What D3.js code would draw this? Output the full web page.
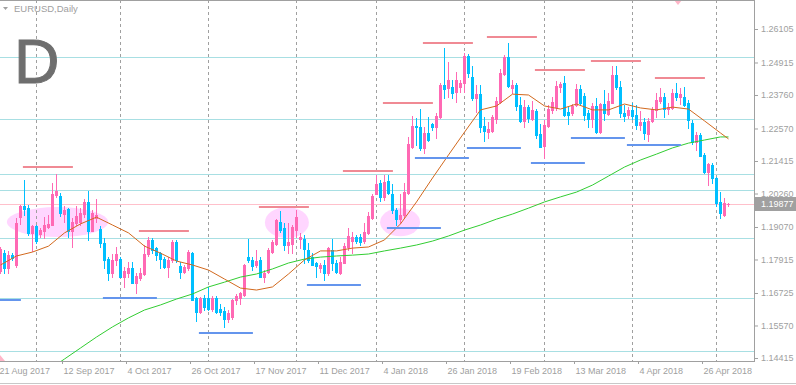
<!DOCTYPE html>
<html>
<head>
<meta charset="utf-8">
<script src="https://cdn.jsdelivr.net/npm/d3@7"></script>
<style>
    body { margin: 0; background: #fff; }
    svg { display: block; font-family: "Liberation Sans", Arial, sans-serif; }
    .axis text { fill: #a0a0a0; font-size: 9px; }
    .axis line { stroke: #a0a0a0; }
</style>
</head>
<body>
<svg id="chart" width="796" height="385"></svg>
<script>
// EURUSD daily bars, 21 Aug 2017 .. 4 May 2018 (index 0 = 21 Aug)
const barOpen = [
    1.1749, 1.1816, 1.1763, 1.1808, 1.1772, 1.1944, 1.1982, 1.1974, 1.1885, 1.1911,
    1.1882, 1.1891, 1.1908, 1.1914, 1.2021, 1.2017, 1.1953, 1.1970, 1.1891, 1.1920,
    1.1926, 1.1953, 1.1997, 1.1893, 1.1938, 1.1899, 1.1849, 1.1792, 1.1745, 1.1788,
    1.1792, 1.1731, 1.1745, 1.1760, 1.1709, 1.1725, 1.1740, 1.1811, 1.1860, 1.1831,
    1.1813, 1.1795, 1.1766, 1.1789, 1.1854, 1.1768, 1.1748, 1.1760, 1.1813, 1.1653,
    1.1606, 1.1653, 1.1656, 1.1617, 1.1656, 1.1617, 1.1609, 1.1581, 1.1588, 1.1647,
    1.1653, 1.1665, 1.1801, 1.1789, 1.1771, 1.1789, 1.1730, 1.1748, 1.1819, 1.1848,
    1.1925, 1.1902, 1.1842, 1.1848, 1.1896, 1.1863, 1.1866, 1.1825, 1.1801, 1.1778,
    1.1763, 1.1772, 1.1742, 1.1825, 1.1778, 1.1744, 1.1780, 1.1837, 1.1858, 1.1872,
    1.1872, 1.1858, 1.1884, 1.1938, 1.2026, 1.2062, 1.2015, 1.2071, 1.2026, 1.1967,
    1.1934, 1.1949, 1.2029, 1.2192, 1.2266, 1.2261, 1.2186, 1.2240, 1.2273, 1.2261,
    1.2297, 1.2411, 1.2400, 1.2406, 1.2388, 1.2403, 1.2417, 1.2515, 1.2441, 1.2364,
    1.2380, 1.2266, 1.2246, 1.2249, 1.2289, 1.2352, 1.2451, 1.2510, 1.2400, 1.2411,
    1.2340, 1.2285, 1.2334, 1.2289, 1.2320, 1.2237, 1.2195, 1.2266, 1.2323, 1.2332,
    1.2406, 1.2417, 1.2317, 1.2313, 1.2340, 1.2396, 1.2372, 1.2311, 1.2289, 1.2337,
    1.2246, 1.2344, 1.2309, 1.2349, 1.2447, 1.2406, 1.2311, 1.2305, 1.2323, 1.2305,
    1.2269, 1.2281, 1.2237, 1.2285, 1.2323, 1.2356, 1.2370, 1.2325, 1.2329, 1.2384,
    1.2370, 1.2370, 1.2346, 1.2278, 1.2210, 1.2234, 1.2163, 1.2103, 1.2127, 1.2080,
    1.1997, 1.1949, 1.1988
];
const barHigh = [
    1.1837, 1.1826, 1.1820, 1.1814, 1.1938, 1.1985, 1.2074, 1.1985, 1.1914, 1.1914,
    1.1903, 1.1944, 1.1950, 1.2062, 1.2096, 1.2027, 1.1980, 1.1974, 1.1938, 1.1980,
    1.1974, 1.2006, 1.2036, 1.1968, 1.2006, 1.1911, 1.1867, 1.1799, 1.1811, 1.1835,
    1.1799, 1.1766, 1.1784, 1.1784, 1.1743, 1.1760, 1.1843, 1.1871, 1.1869, 1.1837,
    1.1819, 1.1801, 1.1801, 1.1860, 1.1862, 1.1783, 1.1772, 1.1825, 1.1819, 1.1659,
    1.1659, 1.1665, 1.1694, 1.1661, 1.1661, 1.1635, 1.1623, 1.1611, 1.1650, 1.1668,
    1.1677, 1.1775, 1.1866, 1.1801, 1.1825, 1.1801, 1.1754, 1.1831, 1.1860, 1.1937,
    1.1965, 1.1920, 1.1920, 1.1914, 1.1967, 1.1884, 1.1878, 1.1849, 1.1813, 1.1783,
    1.1778, 1.1789, 1.1837, 1.1866, 1.1789, 1.1801, 1.1849, 1.1905, 1.1890, 1.1878,
    1.1882, 1.1922, 1.1961, 1.2024, 1.2092, 1.2074, 1.2092, 1.2092, 1.2060, 1.1973,
    1.2026, 1.2062, 1.2228, 1.2301, 1.2293, 1.2325, 1.2263, 1.2297, 1.2278, 1.2311,
    1.2420, 1.2542, 1.2494, 1.2429, 1.2459, 1.2429, 1.2526, 1.2522, 1.2479, 1.2411,
    1.2411, 1.2297, 1.2281, 1.2305, 1.2370, 1.2467, 1.2518, 1.2560, 1.2429, 1.2417,
    1.2370, 1.2358, 1.2340, 1.2356, 1.2325, 1.2273, 1.2287, 1.2340, 1.2370, 1.2427,
    1.2423, 1.2443, 1.2332, 1.2344, 1.2415, 1.2411, 1.2382, 1.2323, 1.2346, 1.2364,
    1.2349, 1.2394, 1.2382, 1.2479, 1.2479, 1.2427, 1.2340, 1.2335, 1.2349, 1.2340,
    1.2320, 1.2293, 1.2293, 1.2332, 1.2384, 1.2400, 1.2384, 1.2346, 1.2396, 1.2420,
    1.2400, 1.2403, 1.2358, 1.2287, 1.2246, 1.2240, 1.2169, 1.2135, 1.2133, 1.2086,
    1.2032, 1.2009, 1.1993
];
const barLow = [
    1.1743, 1.1745, 1.1743, 1.1790, 1.1764, 1.1918, 1.1950, 1.1879, 1.1823, 1.1849,
    1.1871, 1.1867, 1.1902, 1.1914, 1.2015, 1.1946, 1.1926, 1.1873, 1.1837, 1.1914,
    1.1914, 1.1944, 1.1861, 1.1891, 1.1926, 1.1835, 1.1760, 1.1717, 1.1728, 1.1772,
    1.1728, 1.1695, 1.1731, 1.1707, 1.1672, 1.1719, 1.1737, 1.1804, 1.1815, 1.1789,
    1.1760, 1.1760, 1.1728, 1.1783, 1.1783, 1.1724, 1.1742, 1.1754, 1.1647, 1.1574,
    1.1600, 1.1611, 1.1611, 1.1609, 1.1600, 1.1594, 1.1552, 1.1570, 1.1581, 1.1635,
    1.1635, 1.1661, 1.1783, 1.1754, 1.1766, 1.1728, 1.1712, 1.1742, 1.1813, 1.1842,
    1.1890, 1.1825, 1.1813, 1.1813, 1.1872, 1.1831, 1.1778, 1.1783, 1.1772, 1.1730,
    1.1748, 1.1718, 1.1736, 1.1754, 1.1742, 1.1740, 1.1778, 1.1825, 1.1816, 1.1849,
    1.1843, 1.1849, 1.1882, 1.1934, 1.2024, 1.2000, 1.2003, 1.2024, 1.1958, 1.1914,
    1.1920, 1.1938, 1.2024, 1.2186, 1.2198, 1.2180, 1.2171, 1.2214, 1.2251, 1.2222,
    1.2293, 1.2364, 1.2370, 1.2364, 1.2352, 1.2388, 1.2388, 1.2441, 1.2358, 1.2317,
    1.2246, 1.2214, 1.2222, 1.2246, 1.2278, 1.2346, 1.2447, 1.2403, 1.2382, 1.2323,
    1.2281, 1.2261, 1.2281, 1.2287, 1.2222, 1.2190, 1.2151, 1.2263, 1.2311, 1.2323,
    1.2388, 1.2301, 1.2273, 1.2305, 1.2337, 1.2344, 1.2287, 1.2261, 1.2261, 1.2240,
    1.2242, 1.2287, 1.2305, 1.2346, 1.2396, 1.2299, 1.2285, 1.2293, 1.2290, 1.2254,
    1.2252, 1.2218, 1.2214, 1.2281, 1.2299, 1.2349, 1.2299, 1.2309, 1.2325, 1.2358,
    1.2344, 1.2337, 1.2258, 1.2202, 1.2181, 1.2159, 1.2100, 1.2056, 1.2064, 1.1981,
    1.1938, 1.1946, 1.1982
];
const barClose = [
    1.1828, 1.1760, 1.1808, 1.1796, 1.1920, 1.1982, 1.1970, 1.1885, 1.1911, 1.1859,
    1.1897, 1.1914, 1.1918, 1.2025, 1.2035, 1.1956, 1.1968, 1.1891, 1.1923, 1.1946,
    1.1958, 1.1997, 1.1893, 1.1956, 1.1950, 1.1849, 1.1790, 1.1745, 1.1790, 1.1811,
    1.1731, 1.1749, 1.1760, 1.1709, 1.1733, 1.1743, 1.1811, 1.1861, 1.1827, 1.1807,
    1.1795, 1.1766, 1.1789, 1.1854, 1.1789, 1.1748, 1.1766, 1.1819, 1.1647, 1.1606,
    1.1653, 1.1623, 1.1617, 1.1656, 1.1606, 1.1606, 1.1581, 1.1600, 1.1647, 1.1661,
    1.1671, 1.1771, 1.1789, 1.1768, 1.1787, 1.1730, 1.1742, 1.1825, 1.1854, 1.1931,
    1.1896, 1.1842, 1.1854, 1.1908, 1.1943, 1.1870, 1.1828, 1.1789, 1.1772, 1.1768,
    1.1772, 1.1742, 1.1831, 1.1778, 1.1748, 1.1783, 1.1839, 1.1875, 1.1872, 1.1858,
    1.1855, 1.1890, 1.1946, 1.2017, 1.2060, 1.2015, 1.2068, 1.2029, 1.1967, 1.1934,
    1.1949, 1.2032, 1.2202, 1.2266, 1.2261, 1.2186, 1.2240, 1.2216, 1.2263, 1.2301,
    1.2411, 1.2396, 1.2429, 1.2382, 1.2429, 1.2420, 1.2515, 1.2453, 1.2364, 1.2380,
    1.2263, 1.2249, 1.2254, 1.2297, 1.2356, 1.2455, 1.2512, 1.2408, 1.2411, 1.2337,
    1.2285, 1.2334, 1.2293, 1.2323, 1.2234, 1.2192, 1.2269, 1.2325, 1.2352, 1.2408,
    1.2415, 1.2305, 1.2305, 1.2337, 1.2396, 1.2349, 1.2305, 1.2289, 1.2337, 1.2246,
    1.2344, 1.2311, 1.2356, 1.2447, 1.2403, 1.2311, 1.2301, 1.2323, 1.2301, 1.2269,
    1.2281, 1.2242, 1.2285, 1.2325, 1.2358, 1.2370, 1.2325, 1.2335, 1.2384, 1.2370,
    1.2380, 1.2340, 1.2287, 1.2210, 1.2234, 1.2159, 1.2103, 1.2131, 1.2080, 1.1993,
    1.1955, 1.1991, 1.1988
];

// moving averages, read every 4th bar
const maIdx = [0, 4, 8, 12, 16, 20, 24, 28, 32, 36, 40, 44, 48, 52, 56, 60, 64, 68, 72, 76,
    80, 84, 88, 92, 96, 100, 104, 108, 112, 116, 120, 124, 128, 132, 136, 140, 144, 148,
    152, 156, 160, 164, 168, 172, 176, 180, 182];
const maFast = [1.1772, 1.1804, 1.1818, 1.1839, 1.1886, 1.1918, 1.1942, 1.1914, 1.1886, 1.1839,
    1.1814, 1.1786, 1.1772, 1.1754, 1.1722, 1.1690, 1.1683, 1.1694, 1.1740, 1.1790,
    1.1822, 1.1822, 1.1832, 1.1836, 1.1861, 1.1918, 1.1996, 1.2081, 1.2163, 1.2244,
    1.2323, 1.2337, 1.2379, 1.2376, 1.2337, 1.2326, 1.2344, 1.2323, 1.2323, 1.2344,
    1.2330, 1.2323, 1.2333, 1.2326, 1.2284, 1.2241, 1.2220];
const maSlow = [null, null, null, 1.1399, 1.1438, 1.1477, 1.1516, 1.1552, 1.1584, 1.1612,
    1.1630, 1.1651, 1.1669, 1.1694, 1.1711, 1.1729, 1.1740, 1.1758, 1.1779, 1.1793,
    1.1800, 1.1804, 1.1807, 1.1811, 1.1822, 1.1832, 1.1843, 1.1857, 1.1875, 1.1896,
    1.1914, 1.1935, 1.1953, 1.1974, 1.1996, 1.2014, 1.2031, 1.2056, 1.2088, 1.2120,
    1.2145, 1.2166, 1.2188, 1.2205, 1.2216, 1.2227, 1.2227];

const priceTicks = [1.26105, 1.24915, 1.23760, 1.22570, 1.21415, 1.20260,
    1.19070, 1.17915, 1.16725, 1.15570, 1.14415];
const lastPrice = 1.19877;
const monthStarts = [9, 30, 52, 74, 94, 116, 136, 158, 179];
const dateTickIdx = [0, 16, 32, 48, 64, 80, 96, 112, 128, 144, 160, 176];
const dateTickLabels = ["21 Aug 2017", "12 Sep 2017", "4 Oct 2017", "26 Oct 2017",
    "17 Nov 2017", "11 Dec 2017", "4 Jan 2018", "26 Jan 2018", "19 Feb 2018",
    "13 Mar 2018", "4 Apr 2018", "26 Apr 2018"];

// horizontal levels across the whole chart
const levelLines = [1.2510, 1.2291, 1.2095, 1.2038, 1.1868, 1.1655, 1.1465];

// short resistance / support segments (bar index from..to, price)
const resFrom = [5.6, 34.6, 64.6, 85.6, 95.6, 105.6, 121.6, 133.6, 147.6, 163.6];
const resTo = [18.1, 47.1, 77.1, 98.1, 108.1, 118.1, 134.1, 146.1, 160.1, 176.1];
const resPrice = [1.2119, 1.1893, 1.1979, 1.2107, 1.2349, 1.2562, 1.2581, 1.2466, 1.2498, 1.2437];
const supFrom = [-8.4, 25.6, 49.6, 76.6, 96.6, 103.6, 116.6, 132.6, 142.6, 156.6];
const supTo = [5.1, 39.1, 63.1, 90.1, 110.1, 117.1, 130.1, 146.1, 156.1, 170.1];
const supPrice = [1.1649, 1.1656, 1.1531, 1.1701, 1.1904, 1.2153, 1.2189, 1.2135, 1.2224, 1.2199];

// highlighted zones (ellipses): bar index from..to, price top..bottom
const zoneFrom = [1.6, 66.1, 94.9];
const zoneTo = [26.9, 77.1, 104.9];
const zoneTop = [1.1978, 1.1978, 1.1974];
const zoneBottom = [1.1871, 1.1868, 1.1874];

/** MT4 style candle chart */
class CandleChart {

    constructor(svg) {
        this.svg = svg;
        this.plotW = 754;
        this.plotH = 361;
        // one bar = 4px
        this.x = d3.scaleLinear().domain([0, 1]).range([0.5, 4.5]);
        this.y = d3.scaleLinear().domain([1.14415, 1.26105]).range([358, 29]);

        this.bars = barOpen.map(function (o, i) {
            return {i: i, o: o, h: barHigh[i], l: barLow[i], c: barClose[i]};
        });
    }

    draw() {
        let svg = this.svg;
        svg.append("defs").append("clipPath").attr("id", "plotClip")
            .append("rect").attr("width", this.plotW).attr("height", this.plotH);

        this.plot = svg.append("g").attr("clip-path", "url(#plotClip)");

        this.drawBackground();
        this.drawCandles();
        this.drawAverages();
        this.drawSegments();
        this.drawAxes();
        this.drawLabels();
    }

    drawBackground() {
        let x = this.x, y = this.y, plot = this.plot;

        plot.selectAll(".zone").data(zoneFrom).enter().append("ellipse")
            .attr("class", "zone")
            .attr("cx", (d, k) => (x(d) + x(zoneTo[k])) / 2)
            .attr("cy", (d, k) => (y(zoneTop[k]) + y(zoneBottom[k])) / 2)
            .attr("rx", (d, k) => (x(zoneTo[k]) - x(d)) / 2)
            .attr("ry", (d, k) => (y(zoneBottom[k]) - y(zoneTop[k])) / 2)
            .style("fill", "#ffd6ff");

        plot.selectAll(".month").data(monthStarts).enter().append("line")
            .attr("class", "month")
            .attr("x1", d => Math.round(x(d) - 0.5) + 0.5)
            .attr("x2", d => Math.round(x(d) - 0.5) + 0.5)
            .attr("y1", 0).attr("y2", this.plotH)
            .style("stroke", "#a0a0a0")
            .style("stroke-dasharray", "3,3");

        plot.selectAll(".level").data(levelLines).enter().append("line")
            .attr("class", "level")
            .attr("x1", 0).attr("x2", this.plotW)
            .attr("y1", d => Math.round(y(d)) + 0.5)
            .attr("y2", d => Math.round(y(d)) + 0.5)
            .style("stroke", "#a8dfe3");

        plot.append("line")
            .attr("x1", 0).attr("x2", this.plotW)
            .attr("y1", Math.round(y(lastPrice)) + 0.5)
            .attr("y2", Math.round(y(lastPrice)) + 0.5)
            .style("stroke", "#ffc0cb");
    }

    drawCandles() {
        let x = this.x, y = this.y;
        let g = this.plot.append("g").attr("shape-rendering", "crispEdges");
        let colour = d => d.c >= d.o ? "#ff69b4" : "#00bfff";

        g.selectAll(".wick").data(this.bars).enter().append("rect")
            .attr("class", "wick")
            .attr("x", d => x(d.i) - 0.5)
            .attr("width", 1)
            .attr("y", d => Math.round(y(d.h)))
            .attr("height", d => Math.round(y(d.l)) - Math.round(y(d.h)) + 1)
            .style("fill", colour);

        g.selectAll(".body").data(this.bars).enter().append("rect")
            .attr("class", "body")
            .attr("x", d => x(d.i) - 1.5)
            .attr("width", 3)
            .attr("y", d => Math.round(y(Math.max(d.o, d.c))))
            .attr("height", d => Math.round(y(Math.min(d.o, d.c))) - Math.round(y(Math.max(d.o, d.c))) + 1)
            .style("fill", colour);
    }

    drawAverages() {
        let x = this.x, y = this.y;
        let line = d3.line()
            .defined(d => d[1] != null)
            .x(d => x(d[0]))
            .y(d => y(d[1]));

        this.plot.append("path")
            .datum(maIdx.map((d, k) => [d, maSlow[k]]))
            .attr("d", line)
            .style("fill", "none").style("stroke", "#32cd32").style("stroke-width", 1);

        this.plot.append("path")
            .datum(maIdx.map((d, k) => [d, maFast[k]]))
            .attr("d", line)
            .style("fill", "none").style("stroke", "#d2691e").style("stroke-width", 1);
    }

    drawSegments() {
        let x = this.x, y = this.y, plot = this.plot;

        plot.selectAll(".res").data(resPrice).enter().append("rect")
            .attr("class", "res")
            .attr("x", (d, k) => x(resFrom[k]))
            .attr("width", (d, k) => x(resTo[k]) - x(resFrom[k]))
            .attr("y", d => Math.round(y(d)) - 1)
            .attr("height", 2)
            .style("fill", "#f08a94");

        plot.selectAll(".sup").data(supPrice).enter().append("rect")
            .attr("class", "sup")
            .attr("x", (d, k) => x(supFrom[k]))
            .attr("width", (d, k) => x(supTo[k]) - x(supFrom[k]))
            .attr("y", d => Math.round(y(d)) - 1)
            .attr("height", 2)
            .style("fill", "#6495ed");

        // arrow objects cut by the chart edges
        plot.append("path").attr("d", "M674,0L682,0L678,5Z").style("fill", "#ffb6c8");
        plot.append("path").attr("d", "M-5,361L5,361L0,355Z").style("fill", "#ffb6c8");
    }

    drawAxes() {
        let svg = this.svg, y = this.y;

        let yAxis = d3.axisRight(y)
            .tickValues(priceTicks)
            .tickSize(4)
            .tickPadding(3)
            .tickFormat(d3.format(".5f"));

        let gy = svg.append("g").attr("class", "axis")
            .attr("transform", "translate(" + this.plotW + ",0)")
            .call(yAxis);
        gy.select(".domain").remove();

        let tickX = this.x.copy().range([-2, 2]);
        let xAxis = d3.axisBottom(tickX)
            .tickValues(dateTickIdx)
            .tickSize(3)
            .tickFormat((d, k) => dateTickLabels[k]);

        let gx = svg.append("g").attr("class", "axis")
            .attr("transform", "translate(0," + this.plotH + ")")
            .call(xAxis);
        gx.select(".domain").remove();
        gx.selectAll("text")
            .attr("text-anchor", "start")
            .attr("x", 1)
            .attr("y", 13)
            .attr("dy", 0);

        // frame
        let frame = svg.append("g").style("stroke", "#a0a0a0").attr("shape-rendering", "crispEdges");
        frame.append("line").attr("x1", 0).attr("x2", this.plotW + 1).attr("y1", 0.5).attr("y2", 0.5);
        frame.append("line").attr("x1", this.plotW + 0.5).attr("x2", this.plotW + 0.5).attr("y1", 0).attr("y2", this.plotH + 1);
        frame.append("line").attr("x1", 0).attr("x2", this.plotW + 1).attr("y1", this.plotH + 0.5).attr("y2", this.plotH + 0.5);
        svg.append("line").attr("x1", 0).attr("x2", 796).attr("y1", 383.5).attr("y2", 383.5)
            .style("stroke", "#c8c8c8");

        // current price tag
        let py = Math.round(y(lastPrice));
        svg.append("rect")
            .attr("x", this.plotW).attr("y", py - 7)
            .attr("width", 796 - this.plotW).attr("height", 14)
            .style("fill", "#a0a0a0");
        svg.append("text")
            .attr("x", this.plotW + 7).attr("y", py + 0.5)
            .attr("dy", "0.32em")
            .style("font-size", "9px")
            .style("fill", "#fff")
            .text(d3.format(".5f")(lastPrice));
    }

    drawLabels() {
        let svg = this.svg;
        svg.append("path").attr("d", "M3,7L8,7L5.5,10Z").style("fill", "#a0a0a0");
        svg.append("text")
            .attr("x", 14).attr("y", 12)
            .style("font-size", "9.5px")
            .style("fill", "#a0a0a0")
            .text("EURUSD,Daily");

        svg.append("text")
            .attr("x", 14).attr("y", 83)
            .style("font-size", "63px")
            .style("fill", "#6e6e6e")
            .style("stroke", "#6e6e6e")
            .style("stroke-width", 1)
            .text("D");
    }
}

let chart = new CandleChart(d3.select("#chart"));
chart.draw();
</script>
</body>
</html>
